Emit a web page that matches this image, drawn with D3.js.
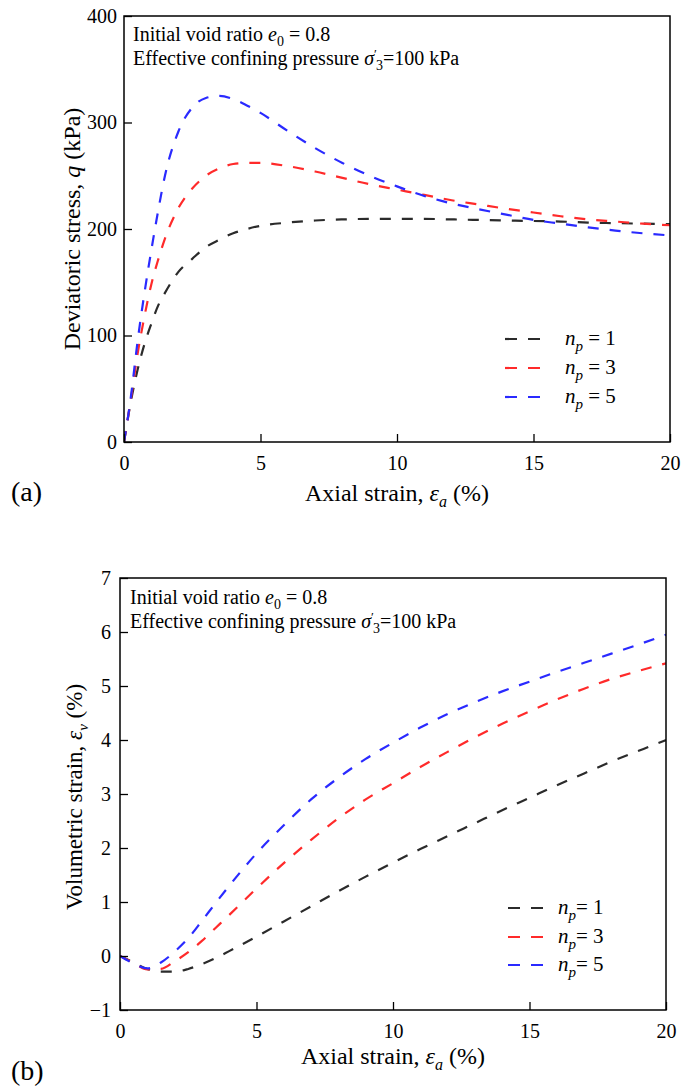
<!DOCTYPE html>
<html><head><meta charset="utf-8">
<script src="https://cdn.jsdelivr.net/npm/d3@7"></script>
<style>
body{margin:0;background:#fff}
svg{display:block}
text{font-family:"Liberation Serif","Times New Roman",serif;fill:#000}
</style>
</head><body>
<svg id="c" width="684" height="1090"></svg>
<script>
// ---------- data: panel (a) deviatoric stress ----------
const strainA = [0,0.25,0.5,0.75,1,1.25,1.5,2,2.5,3,3.5,4,4.5,5,6,7,8,9,10,11,12,13,14,15,16,17,18,19,20];
const qNp1 = [0,38,68,92,111,128,140,160,172,183,190,196,200,203,206,208,209,209.5,209.5,209.5,209,208.5,208,207.5,207,206,205.5,205,204.5];
const qNp3 = [0,40,83,118,148,171,191,220,238,250,257,261,262,262,259,254,248,242,237,232,227,223,219,215.5,212,209,207,205,203.5];
const qNp5 = [0,42,95,140,180,217,250,292,314,323,325,322,316,309,292,276,262,250,240,231,224,218.5,213.5,208.5,205,201.5,198.5,196,194];

// ---------- data: panel (b) volumetric strain ----------
const strainB = [0,0.5,1,1.5,2,2.5,3,3.5,4,5,6,7,8,9,10,11,12,13,14,15,16,17,18,19,20];
const evNp1 = [0,-0.12,-0.24,-0.29,-0.29,-0.24,-0.15,-0.04,0.09,0.36,0.64,0.92,1.2,1.47,1.73,1.98,2.22,2.46,2.7,2.93,3.16,3.38,3.6,3.8,4.0];
const evNp3 = [0,-0.13,-0.25,-0.24,-0.1,0.07,0.28,0.52,0.76,1.25,1.72,2.15,2.55,2.9,3.2,3.5,3.78,4.05,4.3,4.53,4.75,4.95,5.13,5.28,5.42];
const evNp5 = [0,-0.14,-0.23,-0.12,0.08,0.33,0.65,0.98,1.3,1.9,2.42,2.9,3.3,3.65,3.95,4.23,4.48,4.7,4.9,5.08,5.26,5.43,5.6,5.77,5.95];

const npLabels = ["1","3","5"];
const xTicks = [0,5,10,15,20];
const qTicks = [0,100,200,300,400];
const evTicks = [-1,0,1,2,3,4,5,6,7];

const colors = ["#2b2b2b","#ff2a2a","#2a2aff"];
const dash = "11,11";

const svg = d3.select("#c");

function richText(g, x, y, parts, size, anchor){
  const t = g.append("text").attr("x",x).attr("y",y).attr("font-size",size);
  if(anchor) t.attr("text-anchor",anchor);
  parts.forEach(p=>{
    const s = t.append("tspan").text(p.t);
    if(p.i) s.attr("font-style","italic");
    if(p.fs) s.attr("font-size",p.fs);
    if(p.dy) s.attr("dy",p.dy);
    if(p.dx) s.attr("dx",p.dx);
  });
  return t;
}

function panel(cfg){
  const g = svg.append("g");
  const x = d3.scaleLinear().domain([0,20]).range([cfg.left,cfg.right]);
  const y = d3.scaleLinear().domain(cfg.yDomain).range([cfg.bottom,cfg.top]);

  const cid = "clip"+cfg.id;
  svg.append("clipPath").attr("id",cid).append("rect")
    .attr("x",cfg.left).attr("y",cfg.top).attr("width",cfg.right-cfg.left).attr("height",cfg.bottom-cfg.top);

  const line = d3.line().x(d=>x(d[0])).y(d=>y(d[1])).curve(d3.curveMonotoneX);
  cfg.series.forEach((s,i)=>{
    g.append("path").attr("clip-path",`url(#${cid})`)
      .datum(cfg.xs.map((v,j)=>[v,s[j]]))
      .attr("d",line).attr("fill","none").attr("stroke",colors[i])
      .attr("stroke-width",2.2).attr("stroke-dasharray",dash);
  });

  g.append("rect").attr("x",cfg.left).attr("y",cfg.top).attr("width",cfg.right-cfg.left)
    .attr("height",cfg.bottom-cfg.top).attr("fill","none").attr("stroke","#000").attr("stroke-width",1.5);

  const xa = g.append("g").attr("transform",`translate(0,${cfg.bottom})`)
    .call(d3.axisBottom(x).tickValues(xTicks).tickSize(-8).tickPadding(14).tickFormat(d3.format("d")));
  const ya = g.append("g").attr("transform",`translate(${cfg.left},0)`)
    .call(d3.axisLeft(y).tickValues(cfg.yTicks).tickSize(-8).tickPadding(cfg.yPad).tickFormat(d3.format("d")));
  [xa,ya].forEach(a=>{
    a.attr("font-family",null);
    a.select(".domain").remove();
    a.selectAll(".tick line").attr("stroke","#000").attr("stroke-width",1.3);
    a.selectAll(".tick text").attr("font-size",20).attr("fill","#000");
  });

  // annotation
  richText(g, cfg.annX, cfg.annY, [{t:"Initial void ratio "},{t:"e",i:1},{t:"0",fs:14,dy:5},{t:" = 0.8",dy:-5}],20);
  richText(g, cfg.annX, cfg.annY+24, [{t:"Effective confining pressure "},{t:"σ",i:1},{t:"′",fs:13,dy:-7},{t:"3",fs:14,dy:12,dx:-1},{t:"=100 kPa",dy:-5}],20);

  // axis titles
  richText(g, cfg.xTitleX, cfg.xTitleY, [{t:"Axial strain, "},{t:"ε",i:1},{t:"a",i:1,fs:16,dy:6},{t:" (%)",dy:-6}],24,"middle");
  const yt = richText(g, 0, 0, cfg.yTitle, cfg.yTitleSize, "middle");
  yt.attr("transform",`translate(${cfg.yTitleX},${cfg.yTitleY}) rotate(-90)`);

  g.append("text").attr("x",11).attr("y",cfg.labelY).attr("font-size",28).text(cfg.label);

  cfg.legendY.forEach((ly,i)=>{
    g.append("line").attr("x1",cfg.legX).attr("x2",cfg.legX+35).attr("y1",ly).attr("y2",ly)
      .attr("stroke",colors[i]).attr("stroke-width",2.2).attr("stroke-dasharray","12,11");
    richText(g, cfg.legTX, ly+6, [{t:"n",i:1},{t:"p",i:1,fs:15,dy:6},{t:cfg.legEq+npLabels[i],dy:-6}],21);
  });
}

panel({id:"a", left:124,right:670,top:16,bottom:442, yDomain:[0,400], yTicks:qTicks, yPad:7,
  xs:strainA, series:[qNp1,qNp3,qNp5], annX:133, annY:41,
  xTitleX:397, xTitleY:501,
  yTitle:[{t:"Deviatoric stress, "},{t:"q",i:1},{t:" (kPa)"}], yTitleX:80, yTitleY:229, yTitleSize:24,
  label:"(a)", labelY:501,
  legendY:[339,368,397], legX:505, legTX:565, legEq:"  = "});

panel({id:"b", left:120,right:666,top:578,bottom:1010, yDomain:[-1,7], yTicks:evTicks, yPad:9,
  xs:strainB, series:[evNp1,evNp3,evNp5], annX:130, annY:604,
  xTitleX:393, xTitleY:1064,
  yTitle:[{t:"Volumetric strain, "},{t:"ε",i:1},{t:"v",i:1,fs:15,dy:6},{t:" (%)",dy:-6}], yTitleX:82, yTitleY:797, yTitleSize:23,
  label:"(b)", labelY:1080,
  legendY:[908,937,965], legX:508, legTX:558, legEq:"= "});
</script>
</body></html>
